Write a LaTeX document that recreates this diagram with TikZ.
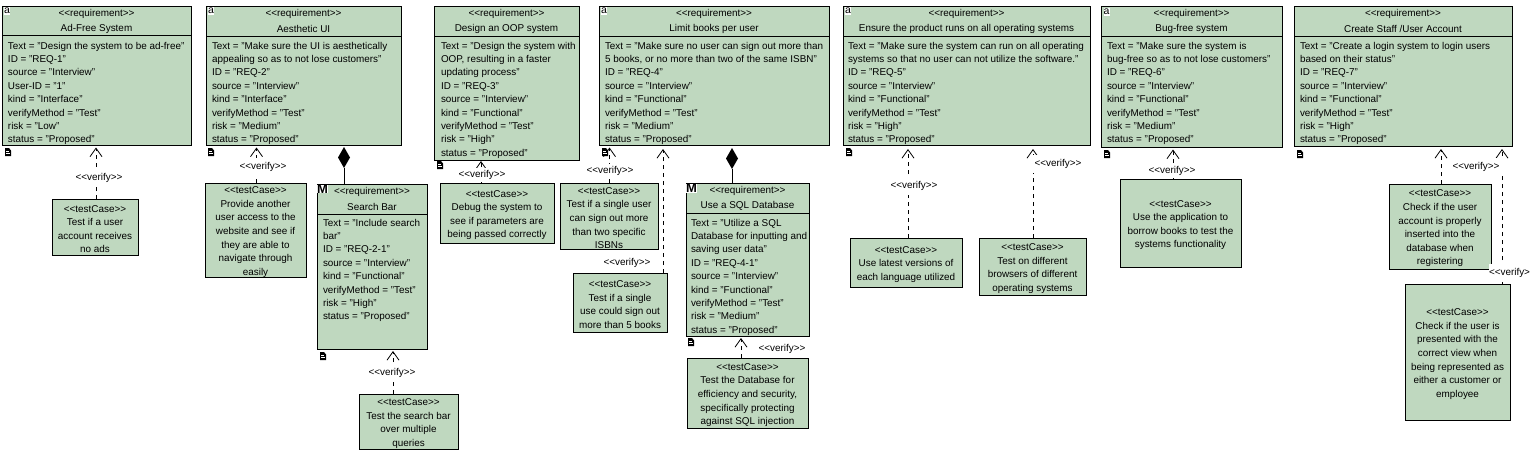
\documentclass[tikz,border=0pt]{standalone}
\usepackage{fontspec}
\setmainfont{Liberation Sans}
\usetikzlibrary{arrows.meta,shapes.geometric}
\definecolor{reqfill}{RGB}{191,216,191}
\newcommand{\lo}{<\kern0pt<}
\newcommand{\lc}{>\kern0pt>}
\newcommand{\vtxt}{\lo verify\lc}
\tikzset{
  x=1pt,y=-1pt,
  base/.style={font=\fontsize{9.9}{13.6}\selectfont,inner sep=0pt,outer sep=0pt},
  reqbox/.style={base,draw=black,line width=0.9pt,fill=reqfill,anchor=north west},
  headtxt/.style={base,align=center},
  attrs/.style={base,font=\fontsize{9.9}{13.4}\selectfont,align=left,anchor=north west},
  vlabel/.style={base,fill=white,minimum width=52pt,minimum height=18pt},
  verify/.style={draw=black,line width=0.8pt,dash pattern=on 4.5pt off 3.5pt,-{Straight Barb[length=8.5pt,width=12pt,line width=0.8pt]}},
  comp/.style={draw=black,line width=1pt},
  blackdiamond/.style={diamond,fill=black,inner sep=0pt,outer sep=0pt,minimum width=12pt,minimum height=21pt},
  aicon/.style={base,fill=white,font=\fontsize{10.5}{10}\selectfont,minimum width=6pt,minimum height=7.5pt,text depth=0pt,text height=6pt},
  micon/.style={base,fill=white,font=\fontsize{13}{13}\selectfont\bfseries,anchor=north west},
}
% id x1 y1 x2 y2 yrule name
\newcommand{\req}[7]{%
  \node[reqbox,minimum width={(#4-#2)*1pt},minimum height={(#5-#3)*1pt}] (#1) at (#2,#3) {};
  \draw[line width=0.9pt] (#2,#6) -- (#4,#6);
  \node[headtxt] (#1s) at ({(#2+#4)/2},#3+8) {\lo requirement\lc};
  \node[headtxt] (#1n) at ({(#2+#4)/2},#3+22.5) {#7};
}
% id x1 y1 x2 y2 text
\newcommand{\tc}[6]{%
  \node[reqbox,minimum width={(#4-#2)*1pt},minimum height={(#5-#3)*1pt}] (#1) at (#2,#3) {};
  \node[headtxt,yshift=-2pt] (#1x) at (#1.center) {\lo testCase\lc\\#6};
}
\newcommand{\docicon}[2]{%
  \fill[black] (#1,#2) -- (#1+4,#2) -- (#1+6,#2+2.5) -- (#1+6,#2+8) -- (#1,#2+8) -- cycle;
  \draw[white,line width=0.6pt] (#1+1,#2+3.5) -- (#1+3.5,#2+3.5) (#1+1,#2+5.7) -- (#1+5,#2+5.7);
}
\begin{document}
\begin{tikzpicture}
\useasboundingbox (0,0) rectangle (1530,452);
\fill[white] (0,0) rectangle (1530,452);
% requirements
\req{r1}{2}{6}{191}{145}{35}{Ad-Free System}
\req{r2}{206}{6}{401}{145}{36}{Aesthetic UI}
\req{r3}{434}{6}{579}{160}{36}{Design an OOP system}
\req{r4}{599}{6}{829}{145}{36}{Limit books per user}
\req{r5}{843}{6}{1090}{145}{36}{Ensure the product runs on all operating systems}
\req{r6}{1101}{6}{1282}{147}{36}{Bug-free system}
\req{r7}{1294}{6}{1512}{146}{36}{Create Staff /User Account}
\req{sb}{317}{184}{427}{349}{214}{Search Bar}
\req{sq}{686}{183}{809}{336}{213}{Use a SQL Database}
% attributes
\node[attrs] (b1) at (8,42) {Text = "Design the system to be ad-free"\\ID = "REQ-1"\\source = "Interview"\\User-ID = "1"\\kind = "Interface"\\verifyMethod = "Test"\\risk = "Low"\\status = "Proposed"};
\node[attrs] (b2) at (212,42) {Text = "Make sure the UI is aesthetically\\appealing so as to not lose customers"\\ID = "REQ-2"\\source = "Interview"\\kind = "Interface"\\verifyMethod = "Test"\\risk = "Medium"\\status = "Proposed"};
\node[attrs] (b3) at (441,42) {Text = "Design the system with\\OOP, resulting in a faster\\updating process"\\ID = "REQ-3"\\source = "Interview"\\kind = "Functional"\\verifyMethod = "Test"\\risk = "High"\\status = "Proposed"};
\node[attrs] (b4) at (605,42) {Text = "Make sure no user can sign out more than\\5 books, or no more than two of the same ISBN"\\ID = "REQ-4"\\source = "Interview"\\kind = "Functional"\\verifyMethod = "Test"\\risk = "Medium"\\status = "Proposed"};
\node[attrs] (b5) at (848,42) {Text = "Make sure the system can run on all operating\\systems so that no user can not utilize the software."\\ID = "REQ-5"\\source = "Interview"\\kind = "Functional"\\verifyMethod = "Test"\\risk = "High"\\status = "Proposed"};
\node[attrs] (b6) at (1107,42) {Text = "Make sure the system is\\bug-free so as to not lose customers"\\ID = "REQ-6"\\source = "Interview"\\kind = "Functional"\\verifyMethod = "Test"\\risk = "Medium"\\status = "Proposed"};
\node[attrs] (b7) at (1300,42) {Text = "Create a login system to login users\\based on their status"\\ID = "REQ-7"\\source = "Interview"\\kind = "Functional"\\verifyMethod = "Test"\\risk = "High"\\status = "Proposed"};
\node[attrs] (b8) at (323,219) {Text = "Include search\\bar"\\ID = "REQ-2-1"\\source = "Interview"\\kind = "Functional"\\verifyMethod = "Test"\\risk = "High"\\status = "Proposed"};
\node[attrs] (b9) at (691,219) {Text = "Utilize a SQL\\Database for inputting and\\saving user data"\\ID = "REQ-4-1"\\source = "Interview"\\kind = "Functional"\\verifyMethod = "Test"\\risk = "Medium"\\status = "Proposed"};
% test cases
\tc{t1}{52}{199}{138}{255}{Test if a user\\account receives\\no ads}
\tc{t2}{205}{183}{306}{277}{Provide another\\user access to the\\website and see if\\they are able to\\navigate through\\easily}
\tc{t3}{359}{394}{458}{449}{Test the search bar\\over multiple\\queries}
\tc{t4}{440}{183}{554}{243}{Debug the system to\\see if parameters are\\being passed correctly}
\tc{t5}{560}{183}{658}{249}{Test if a single user\\can sign out more\\than two specific\\ISBNs}
\tc{t6}{573}{273}{667}{332}{Test if a single\\use could sign out\\more than 5 books}
\tc{t7}{687}{358}{808}{428}{Test the Database for\\efficiency and security,\\specifically protecting\\against SQL injection}
\tc{t8}{850}{238}{962}{287}{Use latest versions of\\each language utilized}
\tc{t9}{979}{238}{1086}{295}{Test on different\\browsers of different\\operating systems}
\tc{t10}{1120}{179}{1241}{267}{Use the application to\\borrow books to test the\\systems functionality}
\tc{t11}{1389}{184}{1491}{269}{Check if the user\\account is properly\\inserted into the\\database when\\registering}
\tc{t12}{1405}{284}{1510}{420}{Check if the user is\\presented with the\\correct view when\\being represented as\\either a customer or\\employee}
% verify connector ends
\coordinate (a1) at (96,147.5);
\coordinate (a2) at (256.5,147.5);
\coordinate (a3) at (393,351);
\coordinate (a4) at (481,161);
\coordinate (a5) at (609.5,147.5);
\coordinate (a6) at (663,149);
\coordinate (a7) at (741,338);
\coordinate (a8) at (908,149);
\coordinate (a9) at (1033,149);
\coordinate (a10) at (1173,149.5);
\coordinate (a11) at (1441,149);
\coordinate (a12) at (1502,149);
\draw[verify] (t1.north -| a1) -- (a1);
\draw[verify] (t2.north -| a2) -- (a2);
\draw[verify] (t3.north -| a3) -- (a3);
\draw[verify] (t4.north -| a4) -- (a4);
\draw[verify] (t5.north -| a5) -- (a5);
\draw[verify] (t6.north -| a6) -- (a6);
\draw[verify] (t7.north -| a7) -- (a7);
\draw[verify] (t8.north -| a8) -- (a8);
\draw[verify] (t9.north -| a9) -- (a9);
\draw[verify] (t10.north -| a10) -- (a10);
\draw[verify] (t11.north -| a11) -- (a11);
\draw[verify] (t12.north -| a12) -- (a12);
% composition
\node[blackdiamond] (d1) at (344,157.5) {};
\node[blackdiamond] (d2) at (732,158.5) {};
\draw[comp] (d1.south) -- (sb.north -| d1);
\draw[comp] (d2.south) -- (sq.north -| d2);
% labels
\node[vlabel] (l1) at (99,178) {\vtxt};
\node[vlabel] (l2) at (263,167) {\vtxt};
\node[vlabel] (l3) at (392,373) {\vtxt};
\node[vlabel,minimum height=14pt] (l4) at (482,175) {\vtxt};
\node[vlabel,minimum height=14pt] (l5) at (610,171) {\vtxt};
\node[vlabel] (l6) at (627,263) {\vtxt};
\node[vlabel] (l7) at (782,349) {\vtxt};
\node[vlabel] (l8) at (914,186) {\vtxt};
\node[vlabel] (l9) at (1058,164) {\vtxt};
\node[vlabel,minimum height=14pt] (l10) at (1172,171) {\vtxt};
\node[vlabel,minimum width=56pt] (l11) at (1476,167) {\vtxt};
\node[vlabel,minimum width=41pt,anchor=east] (l12) at (1530,273) {\lo verify>};
% icons
\node[aicon] (ia1) at (7,11) {a};
\node[aicon] (ia2) at (211,11) {a};
\node[aicon] (ia4) at (604,11) {a};
\node[aicon] (ia5) at (848,11) {a};
\node[aicon] (ia6) at (1106.5,12) {a};
\node[micon] (im1) at (317,184.5) {M};
\node[micon] (im2) at (686,184) {M};
\docicon{5}{148}
\docicon{208}{148}
\docicon{437}{161}
\docicon{602}{148}
\docicon{846}{148}
\docicon{1104}{150}
\docicon{1297}{150}
\docicon{320}{352}
\docicon{688}{338}
\end{tikzpicture}
\end{document}
